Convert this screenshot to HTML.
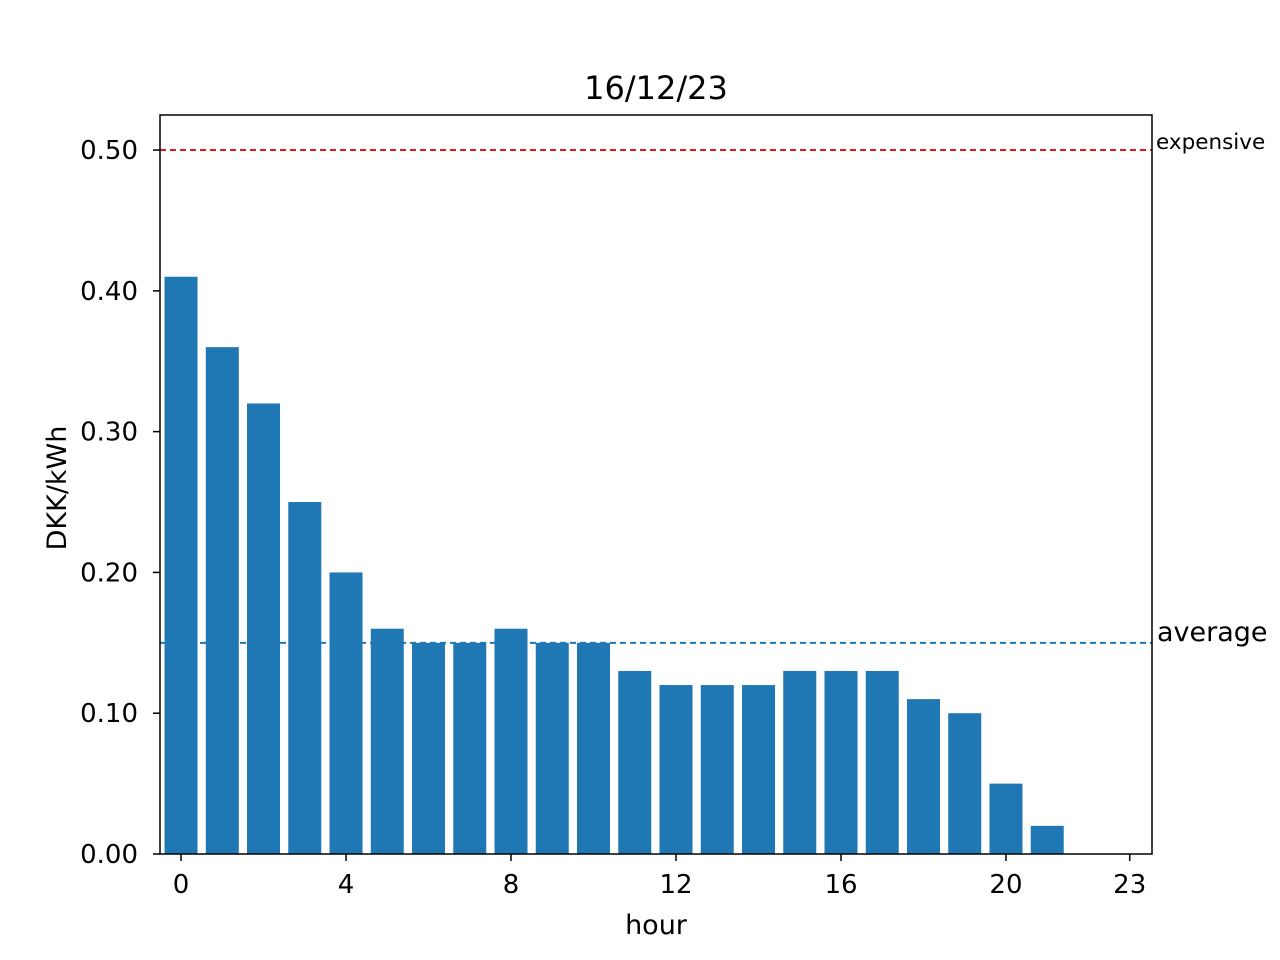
<!DOCTYPE html>
<html><head><meta charset="utf-8"><style>
body{margin:0;background:#fff;}
svg{display:block;font-family:"DejaVu Sans","Liberation Sans",sans-serif;}
</style></head><body>
<svg id="chart" width="1280" height="960">
<rect x="0" y="0" width="1280" height="960" fill="#fff"/>
<text x="656" y="99" font-size="32" text-anchor="middle">16/12/23</text>
<g id="grid"></g>
<g id="bars"></g>
<g id="axes"></g>
<text x="656" y="934" font-size="27" text-anchor="middle">hour</text>
<text transform="translate(66,488) rotate(-90)" font-size="27" text-anchor="middle">DKK/kWh</text>
</svg>
<script>
const hours=[0,1,2,3,4,5,6,7,8,9,10,11,12,13,14,15,16,17,18,19,20,21,22,23];
const prices=[0.41,0.36,0.32,0.25,0.20,0.16,0.15,0.15,0.16,0.15,0.15,0.13,0.12,0.12,0.12,0.13,0.13,0.13,0.11,0.10,0.05,0.02,0,0];
const xTicks=[0,4,8,12,16,20,23];
const yTicks=[0,0.1,0.2,0.3,0.4,0.5];
const averagePrice=0.15;
const expensivePrice=0.5;

const L=160,R=1152,T=115,B=854;
const xmin=-0.51,xmax=23.54,ymin=0,ymax=0.5249;
const sx=v=>L+(v-xmin)/(xmax-xmin)*(R-L);
const sy=v=>B-(v-ymin)/(ymax-ymin)*(B-T);
const NS='http://www.w3.org/2000/svg';
function mk(tag,attrs,parent,txt){const e=document.createElementNS(NS,tag);for(const k in attrs)e.setAttribute(k,attrs[k]);if(txt!==undefined)e.textContent=txt;parent.appendChild(e);return e;}
const grid=document.getElementById('grid'),bars=document.getElementById('bars'),axes=document.getElementById('axes');

let l=mk('line',{x1:L,x2:R,y1:sy(averagePrice),y2:sy(averagePrice),stroke:'#1f77b4','stroke-width':2,'stroke-dasharray':'6,4'},grid);



const bw=sx(0.8)-sx(0);
hours.forEach((h,i)=>{
 const r=mk('rect',{x:sx(h-0.4),y:sy(prices[i]),width:bw,height:sy(0)-sy(prices[i]),fill:'#1f77b4'},bars);
 
 
});

l=mk('line',{x1:L,x2:R,y1:sy(expensivePrice),y2:sy(expensivePrice),stroke:'#e31a1c','stroke-width':2,'stroke-dasharray':'6,4'},axes);



let t=mk('text',{x:1156,y:sy(expensivePrice)-1,'font-size':21.5},axes,'expensive');


t=mk('text',{x:1157,y:sy(averagePrice)-2,'font-size':27},axes,'average');



const frame=mk('rect',{x:L,y:T,width:R-L,height:B-T,fill:'none',stroke:'#000','stroke-width':1.5},axes);



xTicks.forEach(v=>{
 const x=sx(v);
 const tk=mk('line',{x1:x,x2:x,y1:B,y2:B+7,stroke:'#000','stroke-width':1.5},axes);
 
 
 const lb=mk('text',{x:x,y:B+39,'font-size':26,'text-anchor':'middle'},axes,String(v));
 
 
});
yTicks.forEach(v=>{
 const y=sy(v);
 const tk=mk('line',{x1:L-7,x2:L,y1:y,y2:y,stroke:'#000','stroke-width':1.5},axes);
 
 
 const lb=mk('text',{x:L-22,y:y+9,'font-size':26,'text-anchor':'end'},axes,v.toFixed(2));
 
 
});
</script>
</body></html>
